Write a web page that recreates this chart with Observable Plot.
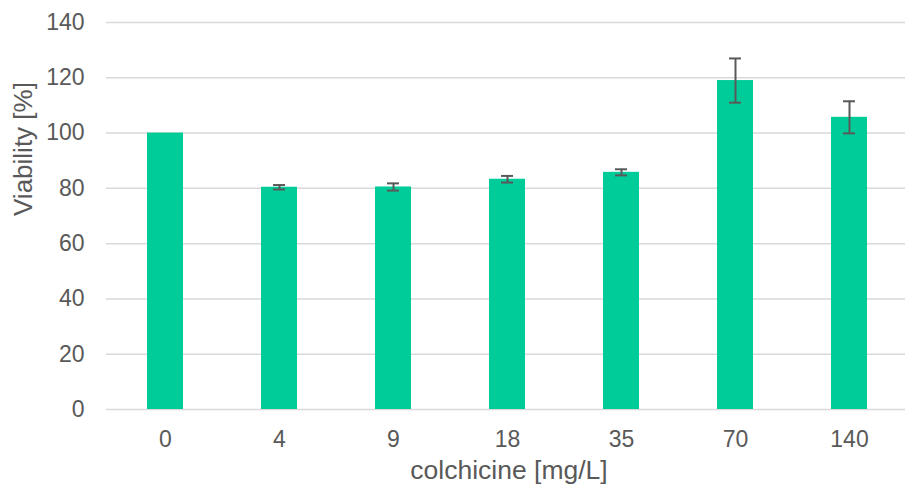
<!DOCTYPE html>
<html>
<head>
<meta charset="utf-8">
<script src="https://cdn.jsdelivr.net/npm/d3@7"></script>
<script src="https://cdn.jsdelivr.net/npm/@observablehq/plot@0.6"></script>
<style>
  html, body { margin: 0; padding: 0; background: #fff; overflow: hidden; }
  svg { display: block; }
</style>
</head>
<body>
<div id="chart"></div>
<script>
const concentrations = ["0", "4", "9", "18", "35", "70", "140"];
const viability = [100, 80.4, 80.5, 83.3, 85.8, 119.0, 105.7];
const errors = [0, 0.8, 1.3, 1.2, 1.1, 8.0, 5.8];
const yTicks = [0, 20, 40, 60, 80, 100, 120, 140];

const data = concentrations.map((c, i) => ({c, v: viability[i], e: errors[i]}));
const errData = data.filter(d => d.e > 0);

const textColor = "#595959";

const chart = Plot.plot({
  width: 905,
  height: 490,
  marginLeft: 106,
  marginRight: 0,
  marginTop: 22,
  marginBottom: 81,
  style: {fontFamily: "Liberation Sans, Arial, sans-serif", fontSize: "23px", color: textColor, background: "#fff"},
  x: {domain: concentrations, range: [106, 908], paddingInner: 0.686, paddingOuter: 0.343, label: null},
  y: {domain: [0, 140], label: null},
  marks: [
    Plot.ruleY(yTicks, {stroke: "#d9d9d9", strokeWidth: 1.5}),
    Plot.barY(data, {x: "c", y: "v", fill: "#00cc99"}),
    Plot.ruleX(errData, {x: "c", y1: d => d.v - d.e, y2: d => d.v + d.e, stroke: "#595959", strokeWidth: 2}),
    Plot.tickY(errData, {x: "c", y: d => d.v - d.e, stroke: "#595959", strokeWidth: 2, insetLeft: 12, insetRight: 12}),
    Plot.tickY(errData, {x: "c", y: d => d.v + d.e, stroke: "#595959", strokeWidth: 2, insetLeft: 12, insetRight: 12}),
    Plot.axisY({ticks: yTicks, tickSize: 0, tickPadding: 22, fill: textColor, fontSize: 23, label: null}),
    Plot.axisX({tickSize: 0, tickPadding: 21, fill: textColor, fontSize: 23, label: null}),
    Plot.text(["Viability [%]"], {frameAnchor: "left", dx: -83, rotate: -90, fill: textColor, fontSize: 26, text: d => d}),
    Plot.text(["colchicine [mg/L]"], {frameAnchor: "bottom", dx: 3, dy: 69, fill: textColor, fontSize: 26.5, text: d => d})
  ]
});
document.getElementById("chart").appendChild(chart);
</script>
</body>
</html>
